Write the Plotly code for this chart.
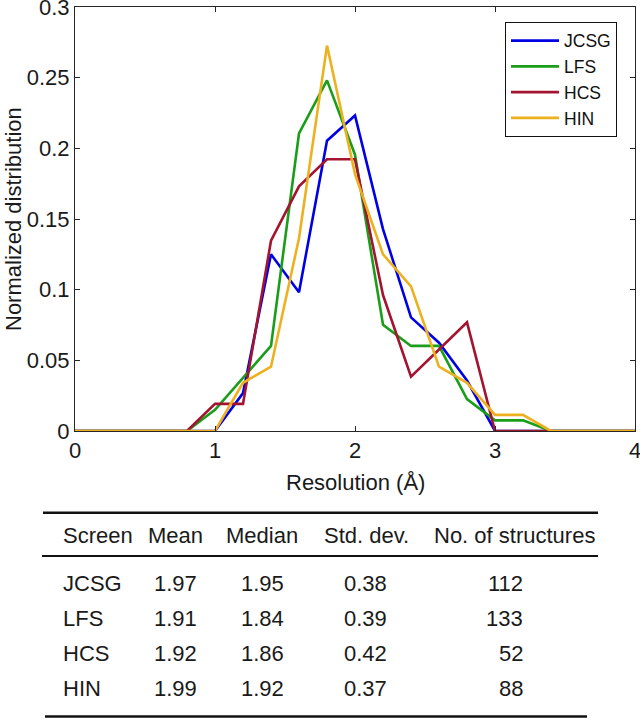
import plotly.graph_objects as go

# ---- data ----
resolution = [0.0, 0.2, 0.4, 0.6, 0.8, 1.0, 1.2, 1.4, 1.6, 1.8, 2.0,
              2.2, 2.4, 2.6, 2.8, 3.0, 3.2, 3.4, 3.6, 3.8, 4.0]
jcsg = [0, 0, 0, 0, 0, 0, 0.0268, 0.125, 0.0982, 0.2054, 0.2232,
        0.1429, 0.0804, 0.0625, 0.0357, 0, 0, 0, 0, 0, 0]
lfs = [0, 0, 0, 0, 0, 0.015, 0.0376, 0.0602, 0.2105, 0.2481, 0.1955,
       0.0752, 0.0602, 0.0602, 0.0226, 0.0075, 0.0075, 0, 0, 0, 0]
hcs = [0, 0, 0, 0, 0, 0.0192, 0.0192, 0.1346, 0.1731, 0.1923, 0.1923,
       0.0962, 0.0385, 0.0577, 0.0769, 0, 0, 0, 0, 0, 0]
hin = [0, 0, 0, 0, 0, 0, 0.0341, 0.0455, 0.1364, 0.2727, 0.1818,
       0.125, 0.1023, 0.0455, 0.0341, 0.0114, 0.0114, 0, 0, 0, 0]

series_names = ["JCSG", "LFS", "HCS", "HIN"]
series_colors = ["#0000E6", "#1A9E1A", "#A2142F", "#EDB120"]

x_ticks = [0, 1, 2, 3, 4]
y_ticks = [0, 0.05, 0.1, 0.15, 0.2, 0.25, 0.3]
y_tick_labels = ["0", "0.05", "0.1", "0.15", "0.2", "0.25", "0.3"]

table_header = ["Screen", "Mean", "Median", "Std. dev.", "No. of structures"]
table_screen = ["JCSG", "LFS", "HCS", "HIN"]
table_mean = ["1.97", "1.91", "1.92", "1.99"]
table_median = ["1.95", "1.84", "1.86", "1.92"]
table_std = ["0.38", "0.39", "0.42", "0.37"]
table_count = ["112", "133", "52", "88"]

# ---- geometry ----
W, H = 640, 719
L, R, T, B = 75, 635, 7, 431
FONT = "Liberation Sans, Arial, sans-serif"
TXT = "#1a1a1a"


def px(x):
    return (x - L) / (R - L)


def py(y):
    return (B - y) / (B - T)


fig = go.Figure()
for name, vals, col in zip(series_names, [jcsg, lfs, hcs, hin], series_colors):
    fig.add_trace(go.Scatter(x=resolution, y=vals, mode="lines", name=name,
                             line=dict(color=col, width=2.6)))

fig.update_layout(
    width=W, height=H,
    margin=dict(l=L, r=W - R, t=T, b=H - B, autoexpand=False),
    plot_bgcolor="white", paper_bgcolor="white",
    font=dict(family=FONT, size=22, color=TXT),
    showlegend=True,
    legend=dict(x=px(505), y=py(21.7), xanchor="left", yanchor="top",
                bgcolor="white", bordercolor="#111", borderwidth=1,
                font=dict(size=17.5, color="#111"),
                tracegroupgap=0, itemwidth=48),
)
fig.update_xaxes(range=[0, 4], tickvals=x_ticks, ticks="inside", ticklen=5,
                 showline=True, linecolor="#262626", linewidth=1, mirror="ticks",
                 showgrid=False, zeroline=False, tickcolor="#262626",
                 ticklabeloverflow="allow", automargin=False,
                 tickfont=dict(size=22, color=TXT))
fig.update_yaxes(range=[0, 0.3], tickvals=y_ticks, ticktext=y_tick_labels,
                 ticks="inside", ticklen=5,
                 showline=True, linecolor="#262626", linewidth=1, mirror="ticks",
                 showgrid=False, zeroline=False, tickcolor="#262626",
                 ticklabeloverflow="allow", automargin=False,
                 tickfont=dict(size=22, color=TXT))

ann = []
# axis titles
ann.append(dict(text="Normalized distribution", x=px(13), y=py(219), xref="paper", yref="paper",
                textangle=-90, showarrow=False, xanchor="center", yanchor="middle",
                font=dict(size=22, color=TXT)))
ann.append(dict(text="Resolution (Å)", x=px(355), y=py(482), xref="paper", yref="paper",
                showarrow=False, xanchor="center", yanchor="middle",
                font=dict(size=22, color=TXT)))

# table
hdr_y = 535
row_ys = [583, 618.5, 653.5, 688]
col_specs = [(61, "left"), (175.5, "center"), (262, "center"), (366, "center"), (514, "center")]
for (cx, anc), txt in zip(col_specs, table_header):
    ann.append(dict(text=txt, x=px(cx), y=py(hdr_y), xref="paper", yref="paper",
                    showarrow=False, xanchor=anc, yanchor="middle",
                    font=dict(size=22, color=TXT)))

for i, yy in enumerate(row_ys):
    cells = [(table_screen[i], 61, "left"), (table_mean[i], 175.5, "center"),
             (table_median[i], 262, "center"), (table_std[i], 365, "center"),
             (table_count[i], 525, "right")]
    for txt, cx, anc in cells:
        ann.append(dict(text=txt, x=px(cx), y=py(yy), xref="paper", yref="paper",
                        showarrow=False, xanchor=anc, yanchor="middle",
                        font=dict(size=22, color=TXT)))

fig.update_layout(annotations=ann)

shapes = [
    dict(type="line", xref="paper", yref="paper", x0=px(43), x1=px(598), y0=py(512.7), y1=py(512.7),
         line=dict(color="#111", width=2.5)),
    dict(type="line", xref="paper", yref="paper", x0=px(42), x1=px(598), y0=py(556), y1=py(556),
         line=dict(color="#111", width=1.8)),
    dict(type="line", xref="paper", yref="paper", x0=px(45), x1=px(587), y0=py(716.5), y1=py(716.5),
         line=dict(color="#111", width=2.5)),
]
fig.update_layout(shapes=shapes)

post = (
    "document.documentElement.style.overflow='hidden';"
    "document.body.style.margin='0';document.body.style.overflow='hidden';"
    "document.querySelectorAll('.svg-container, .plot-container, .main-svg')"
    ".forEach(function(e){e.style.overflow='hidden';});"
)
fig.write_html("out.html", config={"displayModeBar": False}, post_script=post)
